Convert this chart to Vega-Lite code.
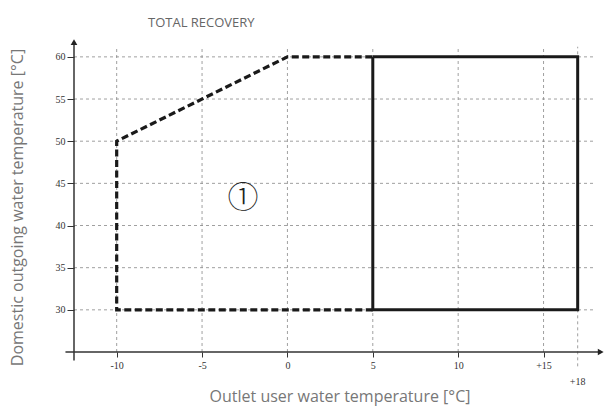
{
  "$schema": "https://vega.github.io/schema/vega-lite/v6.json",
  "autosize": "none",
  "width": 531,
  "height": 312,
  "padding": {"left": 74, "top": 40, "right": 1, "bottom": 55},
  "background": "white",
  "title": {
    "text": "TOTAL RECOVERY",
    "anchor": "start",
    "frame": "group",
    "dx": 74,
    "offset": 9,
    "font": "Open Sans",
    "fontSize": 13,
    "fontWeight": "normal",
    "color": "#666666"
  },
  "config": {"view": {"stroke": null}},
  "datasets": {
    "grid": [
      {"x1": -10, "x2": -10, "y1": 25, "y2": 61.2},
      {"x1": -5, "x2": -5, "y1": 25, "y2": 61.2},
      {"x1": 0, "x2": 0, "y1": 25, "y2": 61.2},
      {"x1": 5, "x2": 5, "y1": 25, "y2": 61.2},
      {"x1": 10, "x2": 10, "y1": 25, "y2": 61.2},
      {"x1": 15, "x2": 15, "y1": 25, "y2": 61.2},
      {"x1": 17, "x2": 17, "y1": 23.3, "y2": 61.2},
      {"x1": -12.5, "x2": 18, "y1": 30, "y2": 30},
      {"x1": -12.5, "x2": 18, "y1": 35, "y2": 35},
      {"x1": -12.5, "x2": 18, "y1": 40, "y2": 40},
      {"x1": -12.5, "x2": 18, "y1": 45, "y2": 45},
      {"x1": -12.5, "x2": 18, "y1": 50, "y2": 50},
      {"x1": -12.5, "x2": 18, "y1": 55, "y2": 55},
      {"x1": -12.5, "x2": 18, "y1": 60, "y2": 60}
    ],
    "axes": [
      {"x1": -13, "x2": 18.2, "y1": 25, "y2": 25},
      {"x1": -12.5, "x2": -12.5, "y1": 24, "y2": 61.6}
    ],
    "arrows": [
      {"x": 18.35, "y": 25, "shape": "triangle-right"},
      {"x": -12.5, "y": 61.75, "shape": "triangle-up"}
    ],
    "envelope": [
      {"i": 0, "x": 5, "y": 30},
      {"i": 1, "x": -10, "y": 30},
      {"i": 2, "x": -10, "y": 50},
      {"i": 3, "x": 0, "y": 60},
      {"i": 4, "x": 5, "y": 60}
    ],
    "box": [
      {"i": 0, "x": 5, "y": 60},
      {"i": 1, "x": 17, "y": 60},
      {"i": 2, "x": 17, "y": 30},
      {"i": 3, "x": 5, "y": 30},
      {"i": 4, "x": 5, "y": 60}
    ],
    "zone": [{"x": -2.6, "y": 43.2, "label": "①"}],
    "extra": [{"x": 17, "y": 21.4, "label": "+18"}]
  },
  "layer": [
    {
      "data": {"name": "grid"},
      "mark": {"type": "rule", "stroke": "#888888", "strokeWidth": 0.8, "strokeDash": [3, 3]},
      "encoding": {
        "x": {
          "field": "x1", "type": "quantitative",
          "scale": {"domain": [-12.5, 18.6], "nice": false, "zero": false},
          "axis": {
            "values": [-10, -5, 0, 5, 10, 15],
            "labelExpr": "datum.value >= 15 ? '+' + datum.value : '' + datum.value",
            "domain": false, "grid": false,
            "tickSize": 5, "tickColor": "#333333", "tickWidth": 1,
            "labelFont": "Liberation Sans Narrow", "labelFontSize": 10, "labelColor": "#333333",
            "labelPadding": 3,
            "title": "Outlet user water temperature [°C]",
            "titleFont": "Open Sans", "titleFontSize": 16, "titleFontWeight": "normal",
            "titleColor": "#777777", "titlePadding": 18
          }
        },
        "x2": {"field": "x2"},
        "y": {
          "field": "y1", "type": "quantitative",
          "scale": {"domain": [25, 62], "nice": false, "zero": false},
          "axis": {
            "values": [30, 35, 40, 45, 50, 55, 60],
            "domain": false, "grid": false,
            "tickSize": 7, "tickColor": "#333333", "tickWidth": 1,
            "labelFont": "Liberation Sans Narrow", "labelFontSize": 10, "labelColor": "#333333",
            "labelPadding": 2,
            "title": "Domestic outgoing water temperature [°C]",
            "titleFont": "Open Sans", "titleFontSize": 16, "titleFontWeight": "normal",
            "titleColor": "#777777", "titlePadding": 30, "titleY": 167
          }
        },
        "y2": {"field": "y2"}
      }
    },
    {
      "data": {"name": "axes"},
      "mark": {"type": "rule", "stroke": "#333333", "strokeWidth": 1.5},
      "encoding": {
        "x": {"field": "x1", "type": "quantitative"},
        "x2": {"field": "x2"},
        "y": {"field": "y1", "type": "quantitative"},
        "y2": {"field": "y2"}
      }
    },
    {
      "data": {"name": "arrows"},
      "mark": {"type": "point", "filled": true, "size": 45, "color": "#222222", "opacity": 1},
      "encoding": {
        "x": {"field": "x", "type": "quantitative"},
        "y": {"field": "y", "type": "quantitative"},
        "shape": {"field": "shape", "type": "nominal", "scale": null, "legend": null}
      }
    },
    {
      "data": {"name": "envelope"},
      "mark": {"type": "line", "stroke": "#1a1a1a", "strokeWidth": 3.2, "strokeDash": [7, 3.5]},
      "encoding": {
        "x": {"field": "x", "type": "quantitative"},
        "y": {"field": "y", "type": "quantitative"},
        "order": {"field": "i"}
      }
    },
    {
      "data": {"name": "box"},
      "mark": {"type": "line", "stroke": "#1a1a1a", "strokeWidth": 3, "strokeJoin": "miter"},
      "encoding": {
        "x": {"field": "x", "type": "quantitative"},
        "y": {"field": "y", "type": "quantitative"},
        "order": {"field": "i"}
      }
    },
    {
      "data": {"name": "zone"},
      "mark": {"type": "text", "font": "Noto Sans CJK JP", "fontSize": 31, "fontWeight": 300, "color": "#222222", "baseline": "middle", "align": "center"},
      "encoding": {
        "x": {"field": "x", "type": "quantitative"},
        "y": {"field": "y", "type": "quantitative"},
        "text": {"field": "label"}
      }
    },
    {
      "data": {"name": "extra"},
      "mark": {"type": "text", "font": "Liberation Sans Narrow", "fontSize": 10, "color": "#333333", "baseline": "middle", "align": "center"},
      "encoding": {
        "x": {"field": "x", "type": "quantitative"},
        "y": {"field": "y", "type": "quantitative"},
        "text": {"field": "label"}
      }
    }
  ]
}
